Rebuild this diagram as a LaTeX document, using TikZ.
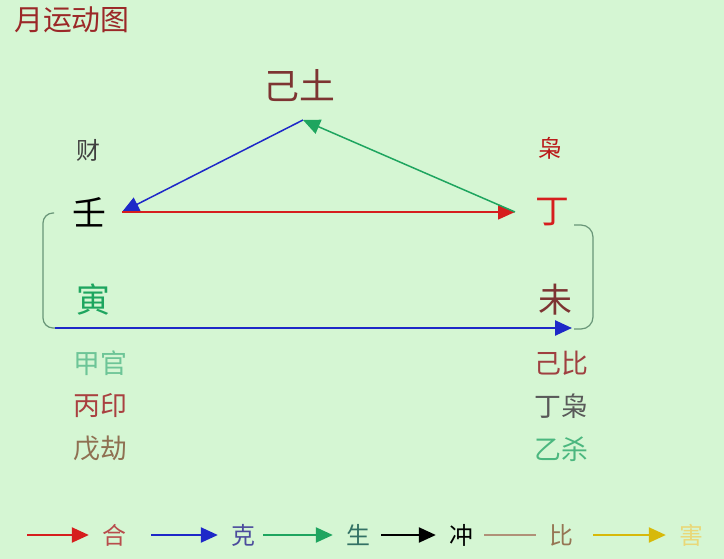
\documentclass[tikz,border=0pt]{standalone}
\usepackage{fontspec}
\setmainfont{Noto Sans CJK SC}
\usetikzlibrary{arrows.meta}
\definecolor{bg}{RGB}{213,246,211}
\definecolor{hered}{RGB}{214,30,30}
\definecolor{keblue}{RGB}{30,40,200}
\definecolor{shgreen}{RGB}{30,165,95}
\definecolor{brk}{RGB}{105,150,120}
\definecolor{tuc}{RGB}{125,52,50}
\definecolor{tit}{RGB}{155,40,40}
\definecolor{bic}{RGB}{176,145,120}
\definecolor{haiy}{RGB}{215,185,10}

\begin{document}
\begin{tikzpicture}[x=1bp,y=-1bp,
	big/.style={font=\fontsize{34}{34}\selectfont},
	mid/.style={font=\fontsize{24}{24}\selectfont},
	lst/.style={font=\fontsize{27}{27}\selectfont,anchor=west,inner sep=0pt},
	leg/.style={font=\fontsize{24}{24}\selectfont,inner xsep=13bp,inner ysep=0pt},
	arr/.style={line width=1.5bp,-{Triangle[length=17bp,width=15bp]}},
	legarr/.style={line width=2.2bp,-{Triangle[length=17bp,width=15bp]}}]
		\fill[bg] (0,0) rectangle (724,559);
		\useasboundingbox (0,0) rectangle (724,559);
		\node[font=\fontsize{29}{29}\selectfont,tit,anchor=west,inner sep=0pt] (title) at (14,20) {月运动图}; %标题
		\node[font=\fontsize{36}{36}\selectfont,tuc] (ji) at (299,86) {己土}; %己土
		\node[mid,black!75] (cai) at (88,150) {财};
		\node[mid,red!70!black!90] (xiao) at (550,148) {枭};
		\node[big,black] (ren) at (89,212) {壬}; %年干
		\node[big,hered] (ding) at (552,212) {丁}; %月干
		\node[big,shgreen] (yin) at (93,300) {寅}; %年支
		\node[big,tuc] (wei) at (555,300) {未}; %月支
		\coordinate (top) at (303,120);
		\coordinate (rp) at (122,212);
		\coordinate (dp) at (515,212);
		\coordinate (bl) at (55,328);
		\coordinate (br) at (572,328);
		\draw[arr,keblue] (top)--(rp);
		\draw[arr,hered] (rp)--(dp);
		\draw[arr,shgreen] (dp)--(top);
		\draw[brk,line width=1.2bp,rounded corners=10bp] (54,213)--(43,213)--(43,328)--(bl);
		\draw[brk,line width=1.2bp,rounded corners=12bp] (574,225)--(593,225)--(593,329)--(574,329);
		\draw[arr,keblue,line width=2.5bp] (bl)--(br);
		%藏干
		\node[lst,shgreen!65] (l1) at (73,363) {甲官};
		\node[lst,red!55!black!75] (l2) at (73,406) {丙印};
		\node[lst,brown!60!black!80] (l3) at (73,449) {戊劫};
		\node[lst,red!50!black!75] (r1) at (534,363) {己比};
		\node[lst,black!65] (r2) at (534,406) {丁枭};
		\node[lst,shgreen!80] (r3) at (534,449) {乙杀};
		%图例
		\node[leg,red!60!black!70] (he) at (114,535) {合};
		\node[leg,blue!45!black!70] (ke) at (243,535) {克};
		\node[leg,blue!45!green!55!black!80] (sh) at (358,535) {生};
		\node[leg,black] (ch) at (461,535) {冲};
		\node[leg,brown!65!black!80] (bi) at (561,535) {比};
		\node[leg,haiy!55] (hai) at (691,535) {害};
		\coordinate (s1) at (27,535);
		\coordinate (s2) at (151,535);
		\coordinate (s3) at (263,535);
		\coordinate (s4) at (381,535);
		\coordinate (s5) at (484,535);
		\coordinate (s6) at (593,535);
		\draw[legarr,hered] (s1)--(he.west);
		\draw[legarr,keblue] (s2)--(ke.west);
		\draw[legarr,shgreen] (s3)--(sh.west);
		\draw[legarr,black] (s4)--(ch.west);
		\draw[line width=2.2bp,bic] (s5)--(bi.west);
		\draw[legarr,haiy] (s6)--(hai.west);
	\end{tikzpicture}
\end{document}
